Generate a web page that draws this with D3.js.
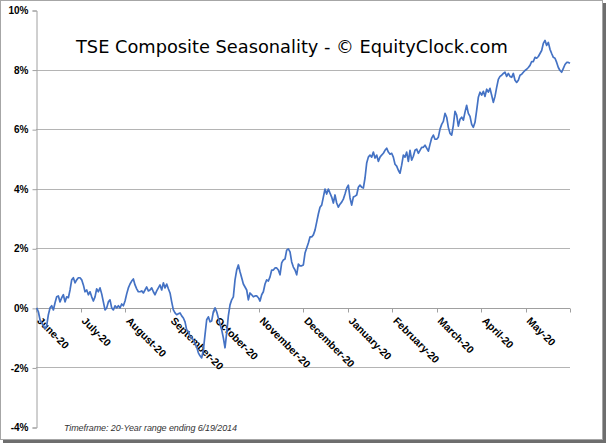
<!DOCTYPE html>
<html>
<head>
<meta charset="utf-8">
<script src="https://cdn.jsdelivr.net/npm/d3@7"></script>
<style>
  html, body { margin: 0; padding: 0; background: #fff; }
  svg { display: block; }
</style>
</head>
<body>
<svg id="chart" width="609" height="443"></svg>
<script>
const title = "TSE Composite Seasonality - \u00A9 EquityClock.com";
const footnote = "Timeframe: 20-Year range ending 6/19/2014";
const months = ["June-20","July-20","August-20","September-20","October-20","November-20","December-20","January-20","February-20","March-20","April-20","May-20"];
const yTicks = [-4, -2, 0, 2, 4, 6, 8, 10];
const values = [0, -0.13, -0.40, -0.50, -0.60, -0.70, -0.60, -0.23, 0, 0.07, -0.07, 0.17, 0.37, 0.40, 0.20, 0.34, 0.44, 0.20, 0.37, 0.34, 0.60, 0.94, 1.01, 0.84, 0.94, 1.01, 1.01, 0.94, 0.77, 0.54, 0.60, 0.44, 0.54, 0.37, 0.23, 0.37, 0.64, 0.54, 0.67, 0.47, 0.20, -0.07, 0, 0.20, 0.27, 0, -0.07, 0.07, 0, 0.07, 0, 0.13, 0.07, 0.23, 0.47, 0.67, 0.80, 0.90, 0.97, 0.77, 0.64, 0.54, 0.54, 0.57, 0.50, 0.60, 0.70, 0.57, 0.60, 0.67, 0.54, 0.44, 0.57, 0.67, 0.77, 0.60, 0.84, 0.67, 0.80, 0.64, 0.50, 0.20, -0.07, -0.17, -0.23, -0.20, -0.17, -0.27, -0.34, -0.47, -0.74, -0.80, -0.97, -1.01, -1.07, -1.21, -1.31, -1.51, -1.61, -1.68, -1.41, -0.90, -0.40, -0.30, -0.47, -0.44, -0.13, 0, -0.13, -0.34, -0.54, -0.74, -1.01, -1.34, -0.84, -0.27, 0.10, 0.27, 0.37, 0.94, 1.27, 1.44, 1.21, 1.01, 0.80, 0.70, 0.60, 0.27, 0.50, 0.44, 0.37, 0.40, 0.40, 0.34, 0.23, 0.44, 0.54, 0.80, 0.94, 0.90, 1.04, 1.27, 1.27, 1.34, 1.34, 1.27, 1.11, 1.51, 1.61, 1.64, 1.94, 1.98, 1.88, 1.54, 1.37, 1.27, 1.11, 1.47, 1.41, 1.41, 1.44, 1.84, 2.01, 2.18, 2.38, 2.38, 2.45, 2.61, 2.88, 3.15, 3.38, 3.45, 3.72, 3.99, 3.82, 3.99, 3.85, 3.72, 3.52, 3.79, 3.52, 3.38, 3.48, 3.55, 3.65, 3.82, 4.02, 4.12, 3.69, 3.45, 3.72, 3.75, 3.79, 4.05, 4.12, 4.05, 4.02, 4.36, 4.86, 5.06, 5.13, 5.06, 5.23, 5.03, 5.13, 4.92, 5.06, 5.13, 5.19, 5.29, 5.36, 5.23, 5.16, 5.19, 5.06, 4.82, 4.76, 4.62, 4.52, 4.79, 5.13, 5.06, 5.23, 4.92, 5.29, 4.96, 5.09, 5.29, 5.33, 5.19, 5.29, 5.39, 5.39, 5.46, 5.36, 5.26, 5.49, 5.70, 5.80, 5.66, 5.66, 5.73, 6.00, 6.16, 6.26, 6.53, 6.40, 6.06, 5.86, 5.80, 6.13, 6.60, 6.47, 6.10, 6.33, 6.40, 6.30, 6.57, 6.80, 6.53, 6.43, 6.16, 6.06, 6.23, 6.63, 7.07, 7.24, 7.14, 7.27, 7.10, 7.34, 7.24, 7.37, 7.14, 6.90, 7.10, 7.40, 7.67, 7.77, 7.81, 7.87, 7.91, 7.77, 7.87, 7.77, 7.74, 7.87, 7.64, 7.57, 7.64, 7.81, 7.84, 7.91, 7.97, 8.01, 8.07, 8.14, 8.27, 8.27, 8.41, 8.38, 8.44, 8.54, 8.64, 8.88, 8.98, 8.81, 8.91, 8.68, 8.54, 8.41, 8.38, 8.24, 8.07, 7.97, 7.91, 8.04, 8.17, 8.24, 8.24, 8.21];

const svg = d3.select("#chart");
const plot = { left: 36, right: 570, top: 10, bottom: 427 };

// frame with shadow
svg.append("rect").attr("x", 3).attr("y", 3).attr("width", 603).attr("height", 440).attr("fill", "#6e6e6e");
svg.append("rect").attr("x", 0.5).attr("y", 0.5).attr("width", 602).attr("height", 439)
  .attr("fill", "#fff").attr("stroke", "#a6a6a6");

const y = d3.scaleLinear().domain([-4, 10]).range([plot.bottom, plot.top]);
const xm = d3.scaleLinear().domain([0, months.length]).range([plot.left, plot.right]);
const xd = d3.scaleLinear().domain([0, values.length - 1]).range([plot.left + 0.7, plot.right]);

// gridlines
svg.append("g").selectAll("line").data(yTicks.filter(t => t > -4 && t < 10)).join("line")
  .attr("x1", plot.left).attr("x2", plot.right)
  .attr("y1", d => Math.round(y(d)) + 0.5).attr("y2", d => Math.round(y(d)) + 0.5)
  .attr("stroke", "#b4b4b4").attr("stroke-width", 1);

// y axis
const yAxis = d3.axisLeft(y).tickValues(yTicks).tickSize(4).tickFormat(d => d + "%");
const gy = svg.append("g").attr("transform", `translate(${plot.left + 0.5},0.5)`).call(yAxis);
gy.select(".domain").attr("stroke", "#a0a0a0");
gy.selectAll(".tick line").attr("stroke", "#a0a0a0");
gy.selectAll(".tick text").attr("font-family", "Liberation Sans, Arial, sans-serif")
  .attr("font-size", 10).attr("font-weight", "bold").attr("fill", "#000").attr("x", -8);

// x axis at 0%
const y0 = Math.round(y(0)) + 0.5;
svg.append("line").attr("x1", plot.left).attr("x2", plot.right).attr("y1", y0).attr("y2", y0)
  .attr("stroke", "#a0a0a0");
svg.append("g").selectAll("line").data(d3.range(months.length + 1)).join("line")
  .attr("x1", d => Math.round(xm(d)) + 0.5).attr("x2", d => Math.round(xm(d)) + 0.5)
  .attr("y1", y0).attr("y2", y0 + 4).attr("stroke", "#a0a0a0");
svg.append("g").selectAll("text").data(months).join("text")
  .attr("transform", (d, i) => `translate(${xm(i) + 0.5},${y0 + 13}) rotate(45)`)
  .attr("font-family", "Liberation Sans, Arial, sans-serif").attr("font-size", 10.5)
  .attr("font-weight", "bold").attr("fill", "#000").text(d => d);

// line
const line = d3.line().x((d, i) => xd(i)).y(d => y(d));
svg.append("path").datum(values).attr("d", line).attr("fill", "none")
  .attr("stroke", "#4472c4").attr("stroke-width", 1.7).attr("stroke-linejoin", "round");

// title
const t = svg.append("text").attr("x", 76).attr("y", 53)
  .attr("font-family", "DejaVu Sans, Verdana, sans-serif").attr("font-size", 20)
  .attr("fill", "#000").text(title);
const tw = t.node().getComputedTextLength();
t.attr("font-size", 20 * 432 / tw);

// footnote
svg.append("text").attr("x", 64).attr("y", 431)
  .attr("font-family", "Liberation Sans, Arial, sans-serif").attr("font-size", 9)
  .attr("font-style", "italic").attr("fill", "#333").attr("textLength", 173)
  .text(footnote);
</script>
</body>
</html>
